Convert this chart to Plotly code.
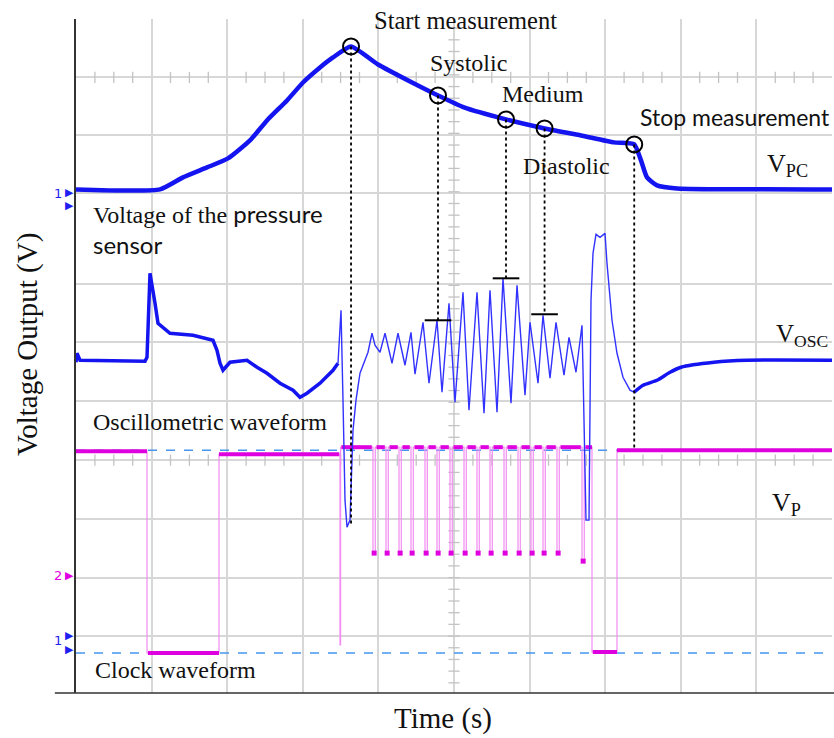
import numpy as np
import plotly.graph_objects as go

# ---------------- data (time in s, voltage in V) ----------------
# V_PC : voltage of the pressure sensor
pc_t = [0, 5.556, 7.077, 8.664, 10.053, 11.508, 12.632, 13.955, 15.013, 16.138, 16.997, 18.19,
        19.974, 22.355, 23.942, 25.662, 28.44, 30.99, 33.400, 35.582, 36.92, 37.368, 37.765,
        38.426, 39.749, 50.0]
pc_v = [8.615, 8.615, 8.821, 8.991, 9.145, 9.453, 9.795, 10.137, 10.444, 10.701, 10.872, 11.060,
        10.752, 10.427, 10.222, 10.017, 9.812, 9.658, 9.538, 9.419, 9.385, 9.111, 8.821,
        8.684, 8.632, 8.615]

# V_OSC : oscillometric waveform (three pieces: noisy start, pulses, recovery)
osc1_t = [0, 0.066, 0.265, 4.564, 4.696, 4.894, 5.225, 5.423, 6.217, 7.738, 9.061, 9.325, 9.524,
          9.722, 10.185, 11.310, 11.971, 12.632, 13.492, 14.352, 14.815, 15.278, 16.138, 16.997, 17.328]
osc1_v = [5.658, 5.812, 5.692, 5.675, 5.744, 7.179, 6.667, 6.325, 6.154, 6.120, 6.034, 5.863, 5.641,
          5.521, 5.658, 5.692, 5.573, 5.470, 5.299, 5.180, 5.060, 5.128, 5.299, 5.521, 5.641]
osc2_t = [17.328, 17.527, 17.659, 17.791, 17.923, 18.122, 18.320, 18.519, 18.783, 19.114, 19.312,
          19.577, 19.775, 20.106, 20.437, 20.900, 21.296, 21.759, 22.156, 22.421, 22.950, 23.347,
          23.876, 24.207, 24.669, 25.066, 25.595, 25.992, 26.521, 26.984, 27.381, 27.844, 28.241,
          28.770, 29.167, 29.696, 30.027, 30.556, 30.886, 31.349, 31.746, 32.275, 32.606, 33.069,
          33.466, 33.532, 33.730, 33.929, 34.061, 34.193, 34.392, 34.656, 34.987, 35.119, 35.450,
          35.781, 36.177, 36.640, 36.905]
osc2_v = [5.641, 6.547, 5.009, 3.299, 2.838, 2.957, 4.496, 5.009, 5.470, 5.692, 5.829,
          6.154, 5.949, 5.829, 6.154, 5.641, 6.154, 5.607, 6.171, 5.453, 6.342, 5.299,
          6.376, 5.145, 6.667, 4.974, 6.855, 4.838, 6.855, 4.786, 6.889, 4.803, 7.094,
          4.957, 6.974, 5.094, 6.342, 5.299, 6.462, 5.385, 6.342, 5.436, 6.085, 5.487,
          6.291, 5.521, 2.957, 2.957, 6.718, 7.521, 7.846, 7.795, 7.863, 7.350, 6.376,
          5.812, 5.402, 5.180, 5.145]
osc3_t = [36.905, 37.500, 38.426, 39.286, 40.013, 42.196, 44.379, 50.0]
osc3_v = [5.145, 5.265, 5.350, 5.487, 5.573, 5.658, 5.692, 5.692]

# measurement events
ev_t = [18.19, 23.942, 28.44, 30.99, 36.92]
ev_pc = [11.060, 10.222, 9.812, 9.658, 9.385]
ev_osc = [2.872, 6.376, 7.094, 6.479, 4.154]
mark_t = [23.942, 28.44, 30.99]
mark_v = [6.376, 7.094, 6.479]

# V_P : clock waveform
clk_high = [4.137, 4.085, 4.205, 4.154]
clk_low = [0.684, 0.701]
clk_edges = [4.696, 9.458, 17.46, 17.50, 34.127, 35.781]
glitch_v = 0.821
pulse_t = [19.643, 20.503, 21.363, 22.156, 23.082, 23.876, 24.736, 25.662, 26.521,
           27.381, 28.307, 29.233, 30.093, 30.886, 31.812, 33.466]
pulse_v = [2.393] * 15 + [2.256]
pulse_w = 0.15

ref_levels = [4.154, 0.684]
grid_v = [0.974, 1.966, 2.974, 3.983, 4.991, 6.000, 6.991, 8.547, 9.538, 10.530, 11.521]
center_v = [10.530, 3.983]
center_t = 25

# channel marker glyphs (label, paper y of label, paper y of arrows, colour)
chan_labels = ["1", "2", "1"]
chan_label_y = [0.741, 0.1736, 0.0786]
chan_arrow_y = [[0.742, 0.724], [0.1736], [0.0846, 0.0638]]
chan_colors = ["rgb(30,30,240)", "rgb(225,0,225)", "rgb(30,30,240)"]

# ---------------- figure ----------------
SERIF = "Liberation Serif, Times New Roman, serif"
SANS = "Lato, Open Sans, sans-serif"
fig = go.Figure()

# minor ticks on centre axes
mt = [t for t in np.arange(0, 50.01, 1.25) if abs(t / 5 - round(t / 5)) > 1e-6]
for cv in center_v:
    fig.add_trace(go.Scatter(x=mt, y=[cv] * len(mt), mode="markers",
                             marker=dict(symbol="line-ns", size=8, line=dict(color="rgb(195,195,195)", width=1.3)),
                             hoverinfo="skip", showlegend=False))
mv = [v for v in np.arange(0.174, 11.5, 0.2)]
fig.add_trace(go.Scatter(x=[center_t] * len(mv), y=mv, mode="markers",
                         marker=dict(symbol="line-ew", size=8, line=dict(color="rgb(195,195,195)", width=1.3)),
                         hoverinfo="skip", showlegend=False))

# dashed reference levels
for lv in ref_levels:
    fig.add_trace(go.Scatter(x=[0, 50], y=[lv, lv], mode="lines",
                             line=dict(color="rgb(70,150,240)", width=1.5, dash="dash"),
                             hoverinfo="skip", showlegend=False))

# clock thin waveform
ct = [0, clk_edges[0], clk_edges[0], clk_edges[1], clk_edges[1], clk_edges[2], clk_edges[2], clk_edges[3], clk_edges[3]]
cv = [clk_high[0], clk_high[0], clk_low[0], clk_low[0], clk_high[1], clk_high[1], glitch_v, glitch_v, clk_high[2]]
for p, d in zip(pulse_t, pulse_v):
    ct += [p, p, p + pulse_w, p + pulse_w]
    cv += [clk_high[2], d, d, clk_high[2]]
ct += [clk_edges[4], clk_edges[4], clk_edges[5], clk_edges[5], 50]
cv += [clk_high[2], clk_low[1], clk_low[1], clk_high[3], clk_high[3]]
fig.add_trace(go.Scatter(x=ct, y=cv, mode="lines", line=dict(color="rgb(242,140,242)", width=1.2),
                         hoverinfo="skip", showlegend=False))

# clock thick levels
tt = [0, clk_edges[0], None, clk_edges[0] + 0.06, clk_edges[1], None, clk_edges[1], clk_edges[2] - 0.05, None]
tv = [clk_high[0], clk_high[0], None, clk_low[0], clk_low[0], None, clk_high[1], clk_high[1], None]
start = clk_edges[3] + 0.05
for p in pulse_t:
    tt += [start, p - 0.08, None]
    tv += [clk_high[2], clk_high[2], None]
    start = p + pulse_w + 0.08
tt += [start, clk_edges[4], None, clk_edges[4] + 0.05, clk_edges[5], None, clk_edges[5], 50]
tv += [clk_high[2], clk_high[2], None, clk_low[1], clk_low[1], None, clk_high[3], clk_high[3]]
fig.add_trace(go.Scatter(x=tt, y=tv, mode="lines", line=dict(color="rgb(222,0,222)", width=4),
                         connectgaps=False, hoverinfo="skip", showlegend=False))
fig.add_trace(go.Scatter(x=[p + pulse_w / 2 for p in pulse_t], y=pulse_v, mode="markers",
                         marker=dict(symbol="square", size=5, color="rgb(222,0,222)"),
                         hoverinfo="skip", showlegend=False))

# oscillometric waveform
fig.add_trace(go.Scatter(x=osc1_t, y=osc1_v, mode="lines", line=dict(color="rgb(20,20,240)", width=3.5),
                         hoverinfo="skip", showlegend=False))
fig.add_trace(go.Scatter(x=osc2_t, y=osc2_v, mode="lines", line=dict(color="rgb(50,50,255)", width=1.4),
                         hoverinfo="skip", showlegend=False))
fig.add_trace(go.Scatter(x=osc3_t, y=osc3_v, mode="lines",
                         line=dict(color="rgb(20,20,240)", width=3.5, shape="spline", smoothing=0.6),
                         hoverinfo="skip", showlegend=False))

# pressure sensor voltage
fig.add_trace(go.Scatter(x=pc_t, y=pc_v, mode="lines",
                         line=dict(color="rgb(20,20,240)", width=4.5, shape="spline", smoothing=0.5),
                         hoverinfo="skip", showlegend=False))

# dotted event lines
dx, dy = [], []
for t, a, b in zip(ev_t, ev_pc, ev_osc):
    dx += [t, t, None]
    dy += [a, b, None]
fig.add_trace(go.Scatter(x=dx, y=dy, mode="lines", line=dict(color="black", width=1.8, dash="dot"),
                         hoverinfo="skip", showlegend=False))
fig.add_trace(go.Scatter(x=ev_t, y=ev_pc, mode="markers",
                         marker=dict(symbol="circle-open", size=16, color="black", line=dict(width=2)),
                         hoverinfo="skip", showlegend=False))
fig.add_trace(go.Scatter(x=mark_t, y=mark_v, mode="markers",
                         marker=dict(symbol="line-ew", size=19, line=dict(color="black", width=2)),
                         hoverinfo="skip", showlegend=False))

ann = []
def label(text, x, y, size=24, family=SERIF, xanchor="left"):
    ann.append(dict(text=text, x=x, y=y, xref="x", yref="y", xanchor=xanchor, yanchor="middle",
                    align="left", showarrow=False, font=dict(family=family, size=size, color="#111")))

label("Start measurement", 19.6, 11.504, size=24.5)
label("Systolic", 23.3, 10.769)
label("Medium", 28.05, 10.239)
label("Diastolic", 29.4, 9.009)
label("Stop measurement", 37.2, 9.846, size=23, family=SANS)
label("V<sub>PC</sub>", 45.6, 9.03, size=26)
label("V<sub>OSC</sub>", 46.15, 6.12, size=25)
label("V<sub>P</sub>", 45.9, 3.23, size=26)
label("Voltage of the <span style='font-family:Lato'>pressure</span><br><span style='font-family:Lato'>sensor</span>",
      1.0, 7.94)
label("Oscillometric waveform", 1.0, 4.633)
label("Clock waveform", 1.15, 0.393)

for txt, ly, ays, col in zip(chan_labels, chan_label_y, chan_arrow_y, chan_colors):
    ann.append(dict(text=txt, x=-0.0235, y=ly, xref="paper", yref="paper", showarrow=False,
                    xanchor="center", yanchor="middle", font=dict(family="DejaVu Sans", size=13, color=col)))
    for ay in ays:
        ann.append(dict(text="▶", x=-0.0085, y=ay, xref="paper", yref="paper", showarrow=False,
                        xanchor="center", yanchor="middle", font=dict(family="DejaVu Sans", size=11, color=col)))

ann.append(dict(text="Voltage Output (V)", textangle=-90, x=-0.0648, y=0.5163, xref="paper", yref="paper",
                showarrow=False, xanchor="center", yanchor="middle", font=dict(family=SERIF, size=29, color="#111")))
ann.append(dict(text="Time (s)", x=0.4854, y=-0.0371, xref="paper", yref="paper",
                showarrow=False, xanchor="center", yanchor="middle", font=dict(family=SERIF, size=29, color="#111")))

fig.update_layout(
    width=834, height=738,
    margin=dict(l=76, r=2, t=19, b=45),
    plot_bgcolor="white", paper_bgcolor="white",
    annotations=ann,
    shapes=[dict(type="line", xref="paper", yref="paper", x0=-0.028, x1=1.003, y0=0, y1=0,
                 line=dict(color="#333", width=1.5))],
    xaxis=dict(range=[0, 50], dtick=5, showgrid=True, gridcolor="rgb(215,215,215)", gridwidth=1.8,
               showticklabels=False, ticks="", zeroline=False, showline=False),
    yaxis=dict(range=[0, 11.53], tickvals=grid_v, showgrid=True, gridcolor="rgb(215,215,215)", gridwidth=1.8,
               showticklabels=False, ticks="", zeroline=False, showline=True, linecolor="#333", linewidth=1.5),
)

fig.write_html("out.html")
